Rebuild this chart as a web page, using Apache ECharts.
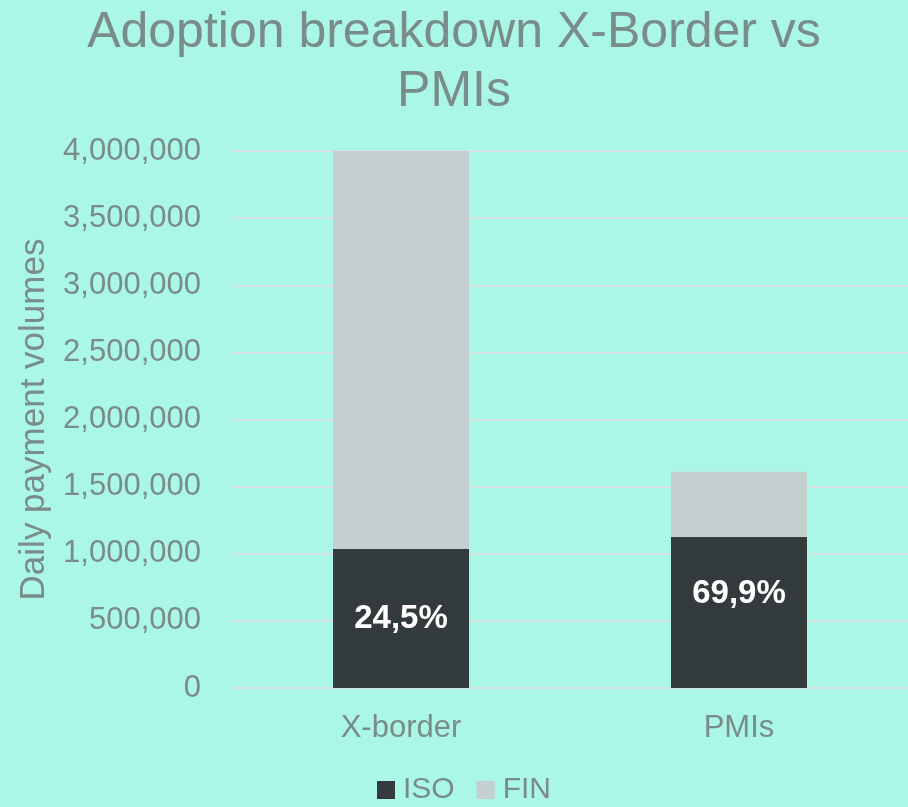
<!DOCTYPE html>
<html>
<head>
<meta charset="utf-8">
<script src="https://cdn.jsdelivr.net/npm/echarts@6/dist/echarts.min.js"></script>
<style>
  html, body { margin: 0; padding: 0; background: #abf7e7; }
  #chart { width: 908px; height: 807px; }
</style>
</head>
<body>
<div id="chart"></div>
<script>
var categories = ['X-border', 'PMIs'];
var isoValues = [1035000, 1125000];
var finValues = [3190000, 485000];
var isoShare = ['24,5%', '69,9%'];
var yTicks = [0, 500000, 1000000, 1500000, 2000000, 2500000, 3000000, 3500000, 4000000];

var grey = '#7a8c89';
var myChart = echarts.init(document.getElementById('chart'));

// label nudges so they sit where the original had them
var labelShift = [[0, 0], [0, -19]];
var isoData = [];
for (var i = 0; i < isoValues.length; i++) {
    isoData.push({
        value: isoValues[i],
        label: { offset: labelShift[i], formatter: isoShare[i] }
    });
}

var option = {
    backgroundColor: '#abf7e7',
    textStyle: { fontFamily: 'Liberation Sans, Arial, sans-serif' },
    title: {
        text: 'Adoption breakdown X-Border vs\nPMIs',
        left: 'center',
        top: -1,
        textStyle: { color: grey, fontSize: 50, fontWeight: 'normal', lineHeight: 59 }
    },
    legend: {
        bottom: -3,
        left: 372,
        itemWidth: 18,
        itemHeight: 18,
        itemGap: 22,
        icon: 'rect',
        textStyle: { color: grey, fontSize: 30, padding: [0, 0, 0, 3] },
        data: ['ISO', 'FIN']
    },
    grid: { left: 232, right: 0, top: 151, bottom: 119, containLabel: false },
    xAxis: {
        type: 'category',
        data: categories,
        axisLine: { show: false },
        axisTick: { show: false },
        axisLabel: { color: grey, fontSize: 31, margin: 25 }
    },
    yAxis: {
        type: 'value',
        min: yTicks[0],
        max: yTicks[yTicks.length - 1],
        interval: yTicks[1] - yTicks[0],
        name: 'Daily payment volumes',
        nameLocation: 'middle',
        nameGap: 178,
        nameTextStyle: { color: grey, fontSize: 35 },
        axisLine: { show: false },
        axisTick: { show: false },
        axisLabel: {
            color: grey, fontSize: 31, margin: 31,
            formatter: function (v) { return v.toLocaleString('en-US'); }
        },
        splitLine: { lineStyle: { color: '#d6e2e0', width: 2 } }
    },
    series: [
        {
            name: 'ISO',
            type: 'bar',
            stack: 'total',
            barWidth: 136,
            itemStyle: { color: '#343b3d' },
            label: {
                show: true,
                position: 'inside',
                color: '#ffffff',
                fontSize: 33,
                fontWeight: 'bold'
            },
            data: isoData
        },
        {
            name: 'FIN',
            type: 'bar',
            stack: 'total',
            barWidth: 136,
            clip: true,
            itemStyle: { color: '#c4cfd0' },
            data: finValues
        }
    ]
};

myChart.setOption(option);
</script>
</body>
</html>
